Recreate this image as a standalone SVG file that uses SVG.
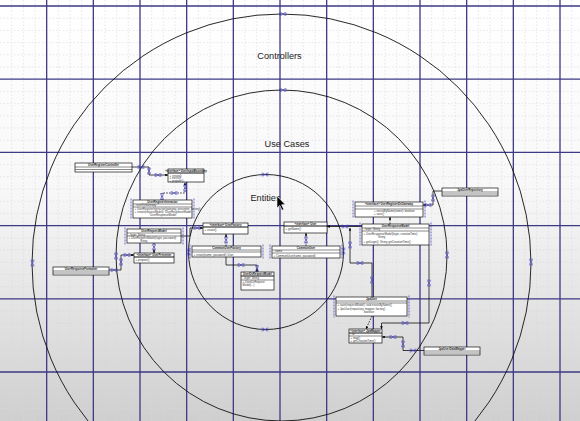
<svg xmlns="http://www.w3.org/2000/svg" width="580" height="421" viewBox="0 0 580 421">
<defs>
<linearGradient id="bg" x1="0" y1="0" x2="0" y2="1">
<stop offset="0" stop-color="#ffffff"/>
<stop offset="0.45" stop-color="#f8f8f8"/>
<stop offset="1" stop-color="#cfcfcf"/>
</linearGradient>
<marker id="ah" viewBox="0 0 6 6" refX="6" refY="3" markerWidth="3.5" markerHeight="3.5" orient="auto">
<path d="M0,0 L6,3 L0,6 z" fill="#000"/>
</marker>
<g id="bm"><path d="M-2,-1.5 L2,1.5 M-2,1.5 L2,-1.5 M-2.8,-2 V2 M2.8,-2 V2" stroke="#4a46c8" stroke-width="0.7" fill="none"/></g>
<g id="bmv"><path d="M-1.5,-2 L1.5,2 M1.5,-2 L-1.5,2 M-2,-2.8 H2 M-2,2.8 H2" stroke="#4a46c8" stroke-width="0.7" fill="none"/></g>
</defs>
<style>
.minor{stroke:#d6d6e0;stroke-width:0.6;stroke-dasharray:1.5 2;fill:none}
.major{stroke:#3d3985;stroke-width:1.3;fill:none}
.ring{stroke:#111;stroke-width:0.9;fill:none}
.lbl{font-family:"Liberation Sans",Arial,sans-serif;font-size:9.2px;fill:#222}
.box{fill:#fff;stroke:#111;stroke-width:0.7}
.sep{stroke:#111;stroke-width:0.5}
.hdr{stroke:#111;stroke-width:1.2}
.t{font-family:"Liberation Sans",Arial,sans-serif;font-size:2.8px;fill:#333}
.tt{font-family:"Liberation Sans",Arial,sans-serif;font-size:2.8px;fill:#111;font-weight:bold;text-anchor:middle}
.conn{stroke:#111;stroke-width:0.8;fill:none}
.dash{stroke-dasharray:1.6 1.2}
.sel{stroke:#4a46c8;stroke-width:0.8;fill:none;stroke-dasharray:2 1}
</style>
<rect x="0" y="0" width="580" height="421" fill="url(#bg)"/>
<g id="grid">
<path class="minor" d="M11.67,0V421M23.33,0V421M35,0V421M58.33,0V421M70,0V421M81.67,0V421M105,0V421M116.67,0V421M128.33,0V421M151.67,0V421M163.33,0V421M175,0V421M198.33,0V421M210,0V421M221.67,0V421M245,0V421M256.67,0V421M268.33,0V421M291.67,0V421M303.33,0V421M315,0V421M338.33,0V421M350,0V421M361.67,0V421M385,0V421M396.67,0V421M408.33,0V421M431.67,0V421M443.33,0V421M455,0V421M478.33,0V421M490,0V421M501.67,0V421M525,0V421M536.67,0V421M548.33,0V421M571.67,0V421"/>
<path class="minor" d="M0,18.2H580M0,30.4H580M0,42.6H580M0,54.8H580M0,67H580M0,91.4H580M0,103.6H580M0,115.8H580M0,128H580M0,140.2H580M0,164.6H580M0,176.8H580M0,189H580M0,201.2H580M0,213.4H580M0,237.8H580M0,250H580M0,262.2H580M0,274.4H580M0,286.6H580M0,311H580M0,323.2H580M0,335.4H580M0,347.6H580M0,359.8H580M0,384.2H580M0,396.4H580M0,408.6H580"/>
<path class="major" d="M46.67,0V421M93.33,0V421M140,0V421M186.67,0V421M233.33,0V421M280,0V421M326.67,0V421M373.33,0V421M420,0V421M466.67,0V421M513.33,0V421M560,0V421"/>
<path class="major" d="M0,6H580M0,79.2H580M0,152.4H580M0,225.6H580M0,298.8H580M0,372H580"/>
</g>
<g id="rings">
<circle class="ring" cx="281.5" cy="263.5" r="249.5"/>
<circle class="ring" cx="281.5" cy="255.5" r="165.5"/>
<circle class="ring" cx="266" cy="252" r="77.5"/>
<use href="#bm" x="283" y="14"/>
<use href="#bm" x="283" y="90"/>
<use href="#bm" x="265" y="174.5"/>
<use href="#bmv" x="32.5" y="263"/>
<use href="#bmv" x="531" y="262"/>
<use href="#bmv" x="116" y="256"/>
<use href="#bmv" x="447" y="255"/>
<use href="#bm" x="265" y="329.5"/>
<use href="#bmv" x="343.5" y="251"/>
<use href="#bmv" x="188.5" y="252"/>
</g>
<g id="labels">
<text class="lbl" x="279.5" y="58.5" text-anchor="middle">Controllers</text>
<text class="lbl" x="287" y="146.5" text-anchor="middle">Use Cases</text>
<text class="lbl" x="265.5" y="201" text-anchor="middle">Entities</text>
</g>
<g id="connectors">
<path class="conn" d="M132,167H149V175H168" marker-end="url(#ah)"/>
<path class="conn dash" d="M162,200V193H185V182.5" marker-end="url(#ah)"/>
<path class="conn dash" d="M154,243V253" marker-end="url(#ah)"/>
<path class="conn" d="M109,270H121V255H134" marker-end="url(#ah)"/>
<path class="conn" d="M181,236H190V228H203" marker-end="url(#ah)"/>
<path class="conn dash" d="M226,246V234" marker-end="url(#ah)"/>
<path class="conn" d="M226,257V265H257V272" marker-end="url(#ah)"/>
<path class="conn dash" d="M306,246V233" marker-end="url(#ah)"/>
<path class="conn" d="M442,191H433V205H423" marker-end="url(#ah)"/>
<path class="conn dash" d="M390,224V217" marker-end="url(#ah)"/>
<path class="conn" d="M362,226.5H327" marker-end="url(#ah)"/>
<path class="conn" d="M372,297V263H350V228" marker-end="url(#ah)"/>
<path class="conn" d="M429,245V323H381.5V329" marker-end="url(#ah)"/>
<path class="conn" d="M424,350.5H403V337H382" marker-end="url(#ah)"/>
<path class="conn dash" d="M372,316L366,329" marker-end="url(#ah)"/>
<use href="#bmv" x="149" y="171"/>
<use href="#bm" x="158" y="175"/>
<use href="#bm" x="141" y="167"/>
<use href="#bmv" x="162" y="196.5"/>
<use href="#bm" x="174" y="193"/>
<use href="#bmv" x="185" y="188"/>
<use href="#bmv" x="154" y="247"/>
<use href="#bm" x="114" y="270"/>
<use href="#bmv" x="121" y="262"/>
<use href="#bm" x="127" y="255"/>
<use href="#bm" x="197" y="228"/>
<use href="#bmv" x="226" y="240"/>
<use href="#bm" x="241" y="265"/>
<use href="#bmv" x="257" y="268.5"/>
<use href="#bmv" x="306" y="240"/>
<use href="#bmv" x="433" y="198"/>
<use href="#bm" x="428" y="205"/>
<use href="#bm" x="345" y="226.5"/>
<use href="#bmv" x="350" y="245"/>
<use href="#bm" x="360" y="263"/>
<use href="#bmv" x="372" y="280"/>
<use href="#bmv" x="429" y="283"/>
<use href="#bm" x="405" y="323"/>
<use href="#bm" x="393" y="337"/>
<use href="#bmv" x="403" y="344"/>
<use href="#bm" x="413" y="350.5"/>
</g>
<g id="b1">
<rect class="box" x="75" y="163" width="57" height="9"/>
<line class="sep" x1="75" y1="167" x2="132" y2="167"/>
<line class="sep" x1="75" y1="169.5" x2="132" y2="169.5"/>
<text class="tt" x="103.5" y="166">UserRegisterController</text>
</g>
<g id="b2">
<rect class="box" x="168" y="169" width="36" height="13"/>
<line class="hdr" x1="168" y1="173" x2="204" y2="173"/>
<text class="tt" x="186" y="172">«interface» UserInputBoundary</text>
<text class="t" x="169.5" y="176.5">+ create()</text>
<text class="t" x="169.5" y="179">+ exists()</text>
<text class="t" x="169.5" y="181.5">+ prepare()</text>
</g>
<g id="b3">
<rect class="box" x="133" y="200" width="59" height="18"/>
<line class="sep" x1="133" y1="204" x2="192" y2="204"/>
<line class="sep" x1="133" y1="207" x2="192" y2="207"/>
<text class="tt" x="162.5" y="203">UserRegisterInteractor</text>
<text class="t" x="134.5" y="206">- userDsGateway</text>
<text class="t" x="134.5" y="210">+ UserRegisterInteractor(gateway, presenter, factory)</text>
<text class="t" x="134.5" y="213">+ create(requestModel): UserResponseModel</text>
<text class="t" x="150" y="216">UserResponseModel</text>
<path class="sel" d="M131,198.5V219.5M194,198.5V219.5"/>
</g>
<g id="b4">
<rect class="box" x="127" y="229" width="54" height="14"/>
<line class="sep" x1="127" y1="233" x2="181" y2="233"/>
<line class="sep" x1="127" y1="236" x2="181" y2="236"/>
<text class="tt" x="154" y="232">UserRequestModel</text>
<text class="t" x="128.5" y="235.5">- login: String</text>
<text class="t" x="128.5" y="239">+ UserRequestModel(login, password)</text>
<text class="t" x="140" y="242">String</text>
<path class="sel" d="M125,227.5V244.5M183,227.5V244.5"/>
</g>
<g id="b5">
<rect class="box" x="134" y="253" width="40" height="10"/>
<line class="hdr" x1="134" y1="257" x2="174" y2="257"/>
<text class="tt" x="154" y="256">«interface» UserPresenter</text>
<text class="t" x="135.5" y="260.5">+ prepare()</text>
</g>
<g id="b6">
<rect class="box" x="53" y="267" width="56" height="8"/>
<line class="sep" x1="53" y1="271" x2="109" y2="271"/>
<line class="sep" x1="53" y1="273" x2="109" y2="273"/>
<text class="tt" x="81" y="270">UserResponseFormatter</text>
</g>
<g id="b7">
<rect class="box" x="203" y="223" width="45" height="11"/>
<line class="hdr" x1="203" y1="227" x2="248" y2="227"/>
<text class="tt" x="225.5" y="226">«interface» UserFactory</text>
<text class="t" x="204.5" y="230.5">+ create()</text>
</g>
<g id="b8">
<rect class="box" x="192" y="246" width="69" height="11"/>
<line class="sep" x1="192" y1="250" x2="261" y2="250"/>
<line class="sep" x1="192" y1="252" x2="261" y2="252"/>
<text class="tt" x="226.5" y="249">CommonUserFactory</text>
<text class="t" x="193.5" y="255.5">+ create(name, password): User</text>
<path class="sel" d="M190,244.5V258.5M263,244.5V258.5"/>
</g>
<g id="b9">
<rect class="box" x="284" y="222" width="43" height="11"/>
<line class="hdr" x1="284" y1="226" x2="327" y2="226"/>
<text class="tt" x="305.5" y="225">«interface» User</text>
<text class="t" x="285.5" y="229.5">+ getName()</text>
</g>
<g id="b10">
<rect class="box" x="272" y="246" width="68" height="12"/>
<line class="sep" x1="272" y1="250" x2="340" y2="250"/>
<line class="sep" x1="272" y1="253" x2="340" y2="253"/>
<text class="tt" x="306" y="249">CommonUser</text>
<text class="t" x="273.5" y="252.3">- name</text>
<text class="t" x="273.5" y="256.5">+ CommonUser(name, password)</text>
<path class="sel" d="M270,244.5V259.5M342,244.5V259.5"/>
</g>
<g id="b11">
<rect class="box" x="241" y="272" width="33" height="18"/>
<line class="hdr" x1="241" y1="276" x2="274" y2="276"/>
<line class="sep" x1="241" y1="280" x2="274" y2="280"/>
<text class="tt" x="257.5" y="275">UserDsRequestModel</text>
<text class="t" x="242.5" y="279">- login: String</text>
<text class="t" x="242.5" y="283">+ UserDsRequest</text>
<text class="t" x="242.5" y="286">Model(...)</text>
</g>
<g id="b12">
<rect class="box" x="355" y="202" width="68" height="15"/>
<line class="sep" x1="355" y1="206" x2="423" y2="206"/>
<line class="sep" x1="355" y1="209" x2="423" y2="209"/>
<text class="tt" x="389" y="205">«interface» UserRegisterDsGateway</text>
<text class="t" x="374" y="212">+ existsByName(name): boolean</text>
<text class="t" x="374" y="215">+ save()</text>
<path class="sel" d="M353,200.5V218.5M425,200.5V218.5"/>
</g>
<g id="b13">
<rect class="box" x="442" y="188" width="56" height="8"/>
<line class="sep" x1="442" y1="192" x2="498" y2="192"/>
<line class="sep" x1="442" y1="194" x2="498" y2="194"/>
<text class="tt" x="470" y="191">JpaUserRepository</text>
</g>
<g id="b14">
<rect class="box" x="362" y="224" width="67" height="21"/>
<line class="sep" x1="362" y1="228" x2="429" y2="228"/>
<line class="sep" x1="362" y1="231" x2="429" y2="231"/>
<text class="tt" x="395.5" y="227">UserResponseModel</text>
<text class="t" x="363.5" y="230.3">- login: String</text>
<text class="t" x="363.5" y="234.5">+ UserResponseModel(login, creationTime)</text>
<text class="t" x="378" y="237.5">String</text>
<text class="t" x="363.5" y="243">+ getLogin(): String   getCreationTime()</text>
<path class="sel" d="M360,222.5V246.5M431,222.5V246.5"/>
</g>
<g id="b15">
<rect class="box" x="336" y="297" width="71" height="19"/>
<line class="sep" x1="336" y1="301" x2="407" y2="301"/>
<line class="sep" x1="336" y1="303" x2="407" y2="303"/>
<text class="tt" x="371.5" y="300">JpaUser</text>
<text class="t" x="337.5" y="306">+ save(requestModel): void   existsByName()</text>
<text class="t" x="337.5" y="309.5">+ JpaUser(repository, mapper, factory)</text>
<text class="t" x="364" y="313">boolean</text>
<path class="sel" d="M334,295.5V317.5M409,295.5V317.5"/>
</g>
<g id="b16">
<rect class="box" x="349" y="329" width="33" height="14"/>
<line class="hdr" x1="349" y1="333" x2="382" y2="333"/>
<line class="sep" x1="349" y1="336" x2="382" y2="336"/>
<text class="tt" x="365.5" y="332">«interface» JpaMapper</text>
<text class="t" x="350.5" y="335">- id</text>
<text class="t" x="350.5" y="339">+ map()</text>
<text class="t" x="350.5" y="342">+ getCreationTime()</text>
</g>
<g id="b17">
<rect class="box" x="424" y="347" width="56" height="8"/>
<line class="sep" x1="424" y1="351" x2="480" y2="351"/>
<line class="sep" x1="424" y1="353" x2="480" y2="353"/>
<text class="tt" x="452" y="350">JpaUserDataMapper</text>
</g>
<g id="cursor">
<path d="M277,196V208L279.8,205.4L282,210.2L283.8,209.4L281.6,204.8L285.2,204.6Z" fill="#000" stroke="#fff" stroke-width="0.6"/>
</g>
</svg>
